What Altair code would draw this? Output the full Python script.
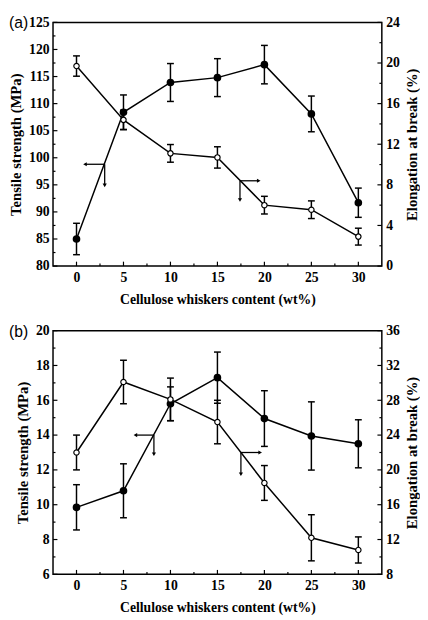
import altair as alt
import pandas as pd

# ---------------- data ----------------
content = [0, 5, 10, 15, 20, 25, 30]

ts_a = [85.0, 108.4, 113.9, 114.8, 117.2, 108.1, 91.7]
ts_a_err = [2.9, 3.2, 3.5, 3.5, 3.55, 3.3, 2.7]
el_a = [19.7, 14.4, 11.1, 10.7, 6.0, 5.55, 2.9]
el_a_err = [1.0, 0.95, 0.87, 1.05, 0.87, 0.87, 0.83]

ts_b = [9.85, 10.8, 15.8, 17.3, 14.95, 13.95, 13.5]
ts_b_err = [1.3, 1.55, 0.97, 1.47, 1.6, 1.96, 1.38]
el_b = [22.0, 30.1, 28.1, 25.5, 18.5, 12.2, 10.8]
el_b_err = [2.0, 2.5, 2.45, 2.5, 2.0, 2.65, 1.5]

x_domain = [-2.5, 32.5]
x_major = [0, 5, 10, 15, 20, 25, 30]
x_minor = [2.5, 7.5, 12.5, 17.5, 22.5, 27.5]

a_left_domain = [80, 125]
a_left_major = [80, 85, 90, 95, 100, 105, 110, 115, 120, 125]
a_left_minor = [82.5, 87.5, 92.5, 97.5, 102.5, 107.5, 112.5, 117.5, 122.5]
a_right_domain = [0, 24]
a_right_major = [0, 4, 8, 12, 16, 20, 24]
a_right_minor = [2, 6, 10, 14, 18, 22]

b_left_domain = [6, 20]
b_left_major = [6, 8, 10, 12, 14, 16, 18, 20]
b_left_minor = [7, 9, 11, 13, 15, 17, 19]
b_right_domain = [8, 36]
b_right_major = [8, 12, 16, 20, 24, 28, 32, 36]
b_right_minor = [10, 14, 18, 22, 26, 30, 34]

# arrows: [x_junction, y_junction, x_tip, y_tip]
a_arrow_left = [3.0, 98.8, 0.9, 94.9]
a_arrow_right = [17.4, 8.4, 19.4, 6.5]
b_arrow_left = [8.24, 14.0, 6.27, 12.9]
b_arrow_right = [17.5, 22.0, 19.55, 19.5]

panel_labels = ["(a)", "(b)"]
x_title = "Cellulose whiskers content (wt%)"
left_title = "Tensile strength (MPa)"
right_title = "Elongation at break (%)"

# ---------------- style ----------------
W, H = 336, 249
SERIF = "Liberation Serif"
SANS = "Liberation Sans"
xs = alt.Scale(domain=x_domain, nice=False, zero=False)


def y_axis(values, title, orient):
    extra = {}
    if orient == "right":
        extra = dict(titleAngle=270, titleBaseline="top")
    return alt.Axis(values=values, title=title, orient=orient, ticks=False,
                    domain=False, grid=False, labelFont=SERIF, labelFontWeight="bold",
                    labelFontSize=14, labelColor="black", labelPadding=4,
                    titleFont=SERIF, titleFontWeight="bold", titleFontSize=15,
                    titleColor="black", titlePadding=5, format="d", **extra)


x_axis = alt.Axis(values=x_major, title=x_title, orient="bottom", ticks=False, domain=False,
                  grid=False, labelFont=SERIF, labelFontWeight="bold", labelFontSize=14,
                  labelColor="black", labelPadding=5, titleFont=SERIF,
                  titleFontWeight="bold", titleFontSize=14, titleColor="black",
                  titlePadding=8, format="d")


def XF(field="x"):
    return alt.X(f"{field}:Q", scale=xs, axis=x_axis)


def side(vals, errs, domain, major, minor, orient, title, filled, arrow):
    ys = alt.Scale(domain=domain, nice=False, zero=False)

    def YN(field):
        return alt.Y(f"{field}:Q", scale=ys, axis=None)

    lo = [v - e for v, e in zip(vals, errs)]
    hi = [v + e for v, e in zip(vals, errs)]
    df = pd.DataFrame({"x": content, "y": vals, "lo": lo, "hi": hi})
    caps = pd.DataFrame({"x": content + content, "y": lo + hi})

    bars = alt.Chart(df).mark_rule(color="black", strokeWidth=1.5).encode(
        x=XF(), y=YN("lo"), y2="hi:Q")
    capm = alt.Chart(caps).mark_tick(orient="horizontal", size=7, thickness=1.5,
                                     color="black", opacity=1).encode(x=XF(), y=YN("y"))
    line = alt.Chart(df).mark_line(color="black", strokeWidth=1.5).encode(
        x=XF(), y=alt.Y("y:Q", scale=ys, axis=y_axis(major, title, orient)))
    if filled:
        pts = alt.Chart(df).mark_point(shape="circle", filled=True, fill="black",
                                       stroke="black", size=34, opacity=1).encode(
            x=XF(), y=YN("y"))
    else:
        pts = alt.Chart(df).mark_point(shape="circle", filled=True, fill="white",
                                       stroke="black", strokeWidth=1.2, size=30,
                                       opacity=1).encode(x=XF(), y=YN("y"))

    if orient == "left":
        xa, xb, xc = 0, 4.5, 2.5
    else:
        xa, xb, xc = W, W - 4.5, W - 2.5
    tmaj = alt.Chart(pd.DataFrame({"v": major})).mark_rule(color="black", strokeWidth=1.2).encode(
        y=YN("v"), x=alt.value(xa), x2=alt.value(xb))
    tmin = alt.Chart(pd.DataFrame({"v": minor})).mark_rule(color="black", strokeWidth=1.2).encode(
        y=YN("v"), x=alt.value(xa), x2=alt.value(xc))

    jx, jy, tx, ty = arrow
    harr = alt.Chart(pd.DataFrame({"x": [jx], "x2": [tx], "y": [jy]})).mark_rule(
        color="black", strokeWidth=1.3).encode(x=XF(), x2="x2:Q", y=YN("y"))
    varr = alt.Chart(pd.DataFrame({"x": [jx], "y": [jy], "y2": [ty]})).mark_rule(
        color="black", strokeWidth=1.3).encode(x=XF(), y=YN("y"), y2="y2:Q")
    hshape = "triangle-left" if orient == "left" else "triangle-right"
    heads = alt.Chart(pd.DataFrame({"x": [tx, jx], "y": [jy, ty],
                                    "s": [hshape, "triangle-down"]})).mark_point(
        filled=True, color="black", size=18, opacity=1).encode(
        x=XF(), y=YN("y"), shape=alt.Shape("s:N", scale=None, legend=None))

    return [bars, capm, line, pts, tmaj, tmin, harr, varr, heads]


def panel(label, ts, ts_err, el, el_err, ldom, lmaj, lmin, rdom, rmaj, rmin, arl, arr):
    layers = side(ts, ts_err, ldom, lmaj, lmin, "left", left_title, True, arl)
    layers += side(el, el_err, rdom, rmaj, rmin, "right", right_title, False, arr)
    xt_maj = alt.Chart(pd.DataFrame({"v": x_major})).mark_rule(color="black", strokeWidth=1.2).encode(
        x=XF("v"), y=alt.value(H), y2=alt.value(H - 4.5))
    xt_min = alt.Chart(pd.DataFrame({"v": x_minor})).mark_rule(color="black", strokeWidth=1.2).encode(
        x=XF("v"), y=alt.value(H), y2=alt.value(H - 2.5))
    txt = alt.Chart(pd.DataFrame({"t": [label]})).mark_text(
        font=SANS, fontSize=16, align="left", baseline="middle", color="black").encode(
        text="t:N", x=alt.value(-45), y=alt.value(1))
    layers += [xt_maj, xt_min, txt]
    return alt.layer(*layers).resolve_scale(y="independent").properties(width=W, height=H)


pa = panel(panel_labels[0], ts_a, ts_a_err, el_a, el_a_err,
           a_left_domain, a_left_major, a_left_minor,
           a_right_domain, a_right_major, a_right_minor, a_arrow_left, a_arrow_right)
pb = panel(panel_labels[1], ts_b, ts_b_err, el_b, el_b_err,
           b_left_domain, b_left_major, b_left_minor,
           b_right_domain, b_right_major, b_right_minor, b_arrow_left, b_arrow_right)

chart = alt.vconcat(pa, pb, spacing=16).properties(
    padding={"left": 0, "top": 0, "right": 0, "bottom": 0},
    background="white",
).configure_view(stroke="black", strokeWidth=1.5)

chart.save("out.html", embed_options={"renderer": "svg", "actions": False})
